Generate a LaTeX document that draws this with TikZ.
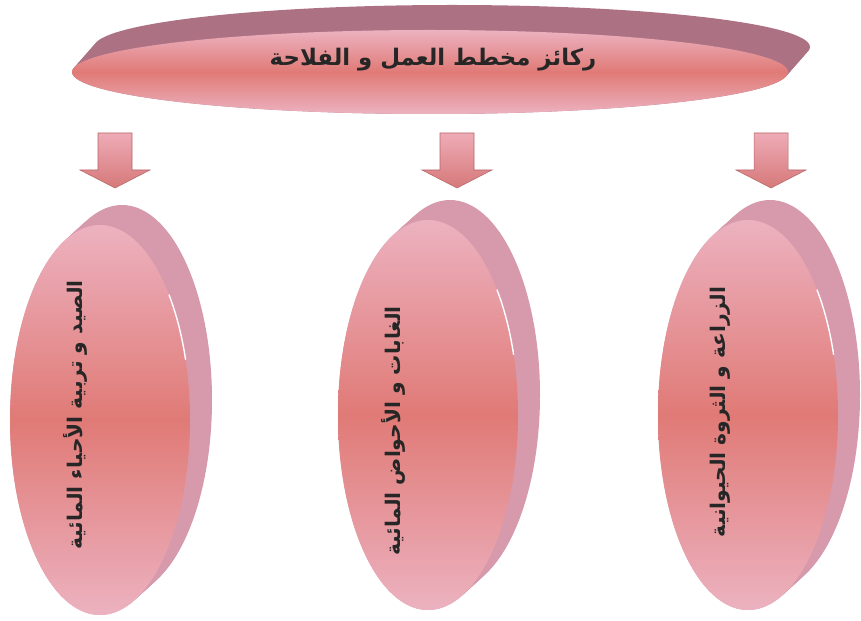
\documentclass[tikz,border=0pt]{standalone}
\usepackage{fontspec}
\usepackage{tikz}
\usetikzlibrary{calc,positioning}
\TeXXeTstate=1
\newfontfamily\arabicfont[Script=Arabic]{DejaVu Sans}
\definecolor{discmid}{RGB}{224,122,118}
\definecolor{discedge}{RGB}{236,178,192}
\definecolor{sidedark}{RGB}{172,114,132}
\definecolor{sidelight}{RGB}{214,154,172}
\definecolor{arrowtop}{RGB}{238,172,182}
\definecolor{arrowbot}{RGB}{214,120,122}

\begin{document}
\begin{tikzpicture}[x=0.02cm, y=-0.02cm,
  face/.style={top color=discedge, bottom color=discedge, middle color=discmid},
  lbl/.style={font=\arabicfont\bfseries\fontsize{13}{15}\selectfont,
    text=black!85, inner sep=0pt},
  vlbl/.style={lbl, font=\arabicfont\bfseries\fontsize{11.5}{14}\selectfont,
    rotate=90},
  blockarr/.style={top color=arrowtop, bottom color=arrowbot,
    draw=arrowbot!85!black, line width=0.3pt},
  shine/.style={white, line width=0.8pt},
]
  \useasboundingbox (0,0) rectangle (861,621);

  % top disc
  \foreach \t in {0,...,10}
    \fill[sidedark] (430+2.2*\t, 72-2.5*\t) ellipse [x radius=358, y radius=42];
  \shade[face] (430,72) ellipse [x radius=358, y radius=42];
  \node[lbl] (plan) at (433,60) {\beginR ركائز مخطط العمل و الفلاحة\endR};

  % block arrows
  \foreach \ax in {115,457,771}
    \shade[blockarr] (\ax-17,133) -- (\ax+17,133) -- (\ax+17,170)
      -- (\ax+35,170) -- (\ax,188) -- (\ax-35,170) -- (\ax-17,170) -- cycle;

  % lower discs
  \foreach \cx/\cy in {100/420, 428/415, 748/415} {
    \foreach \t in {0,...,10}
      \fill[sidelight] (\cx+2.2*\t, \cy-2*\t) ellipse [x radius=90, y radius=195];
    \shade[face] (\cx,\cy) ellipse [x radius=90, y radius=195];
    \draw[shine] ($(\cx,\cy)+({90*cos(-40)},{195*sin(-40)})$)
      arc [start angle=-40, end angle=-18, x radius=90, y radius=195];
  }

  \node[vlbl] (fish) at (75,415)
    {\beginR الصيد و تربية الأحياء المائية\endR};
  \node[vlbl] (forest) at (393,431)
    {\beginR الغابات و الأحواض المائية\endR};
  \node[vlbl] (farm) at (720,412)
    {\beginR الزراعة و الثروة الحيوانية\endR};
\end{tikzpicture}
\end{document}
